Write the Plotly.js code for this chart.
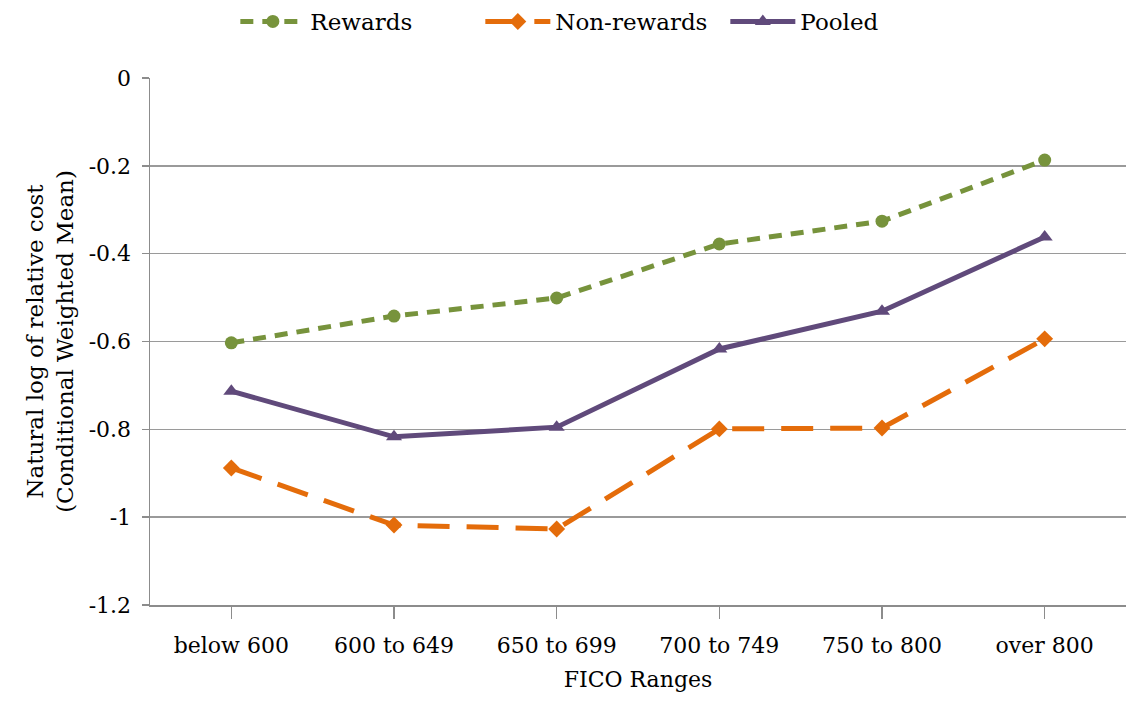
<!DOCTYPE html>
<html>
<head>
<meta charset="utf-8">
<script src="https://cdn.plot.ly/plotly-3.0.1.min.js"></script>
<style>html,body{margin:0;padding:0;background:#fff;}#chart{width:1126px;height:704px;}</style>
</head>
<body>
<div id="chart"></div>
<script>
const categories = ["below 600", "600 to 649", "650 to 699", "700 to 749", "750 to 800", "over 800"];
const rewards = [-0.603, -0.542, -0.501, -0.378, -0.326, -0.187];
const nonRewards = [-0.888, -1.018, -1.027, -0.799, -0.797, -0.594];
const pooled = [-0.713, -0.817, -0.795, -0.617, -0.531, -0.362];
const yTicks = [0, -0.2, -0.4, -0.6, -0.8, -1, -1.2];

const FONT = "DejaVu Serif, Liberation Serif, serif";

const traces = [
  {x: categories, y: rewards, name: "Rewards", type: "scatter", mode: "lines+markers",
   line: {color: "#77933C", width: 5, dash: "13px,9px"},
   marker: {symbol: "circle", size: 13, color: "#77933C"}},
  {x: categories, y: nonRewards, name: "Non-rewards", type: "scatter", mode: "lines+markers",
   line: {color: "#E46C0A", width: 5, dash: "32px,17px"},
   marker: {symbol: "diamond", size: 13, color: "#E46C0A"}},
  {x: categories, y: pooled, name: "Pooled", type: "scatter", mode: "lines+markers",
   line: {color: "#604A7B", width: 5},
   marker: {symbol: "triangle-up", size: 14, color: "#604A7B"}}
];

const layout = {
  width: 1126, height: 704,
  margin: {l: 150, r: 0, t: 78, b: 99},
  paper_bgcolor: "#fff", plot_bgcolor: "#fff",
  font: {family: FONT, color: "#000", size: 22},
  showlegend: true,
  legend: {orientation: "h", x: 0.209, xanchor: "left", y: 1.0, yanchor: "top",
           yref: "container", xref: "container", itemwidth: 65,
           entrywidth: 165, entrywidthmode: "pixels",
           font: {family: FONT, size: 23, color: "#000"}},
  xaxis: {
    type: "category", range: [-0.5, 5.5],
    showgrid: false, zeroline: false,
    showline: true, linecolor: "#8c8c8c", linewidth: 1.5,
    ticks: "outside", ticklen: 12, tickcolor: "#8c8c8c", tickwidth: 1.5,
    tickfont: {family: FONT, size: 22, color: "#000"},
    ticklabelstandoff: 8,
    title: {text: "FICO Ranges", font: {family: FONT, size: 22, color: "#000"}, standoff: 14}
  },
  yaxis: {
    range: [-1.2, 0], tickvals: yTicks, ticktext: yTicks.map(String),
    showgrid: true, gridcolor: "#9a9a9a", gridwidth: 1.5,
    zeroline: false,
    showline: true, linecolor: "#8c8c8c", linewidth: 1.5,
    ticks: "outside", ticklen: 7, tickcolor: "#8c8c8c", tickwidth: 1.5,
    tickfont: {family: FONT, size: 22, color: "#000"},
    ticklabelstandoff: 6,
    title: {text: "Natural log of relative cost<br>(Conditional Weighted Mean)", font: {family: FONT, size: 23, color: "#000"}, standoff: 8}
  }
};

Plotly.newPlot("chart", traces, layout, {displayModeBar: false, staticPlot: true});
</script>
</body>
</html>
